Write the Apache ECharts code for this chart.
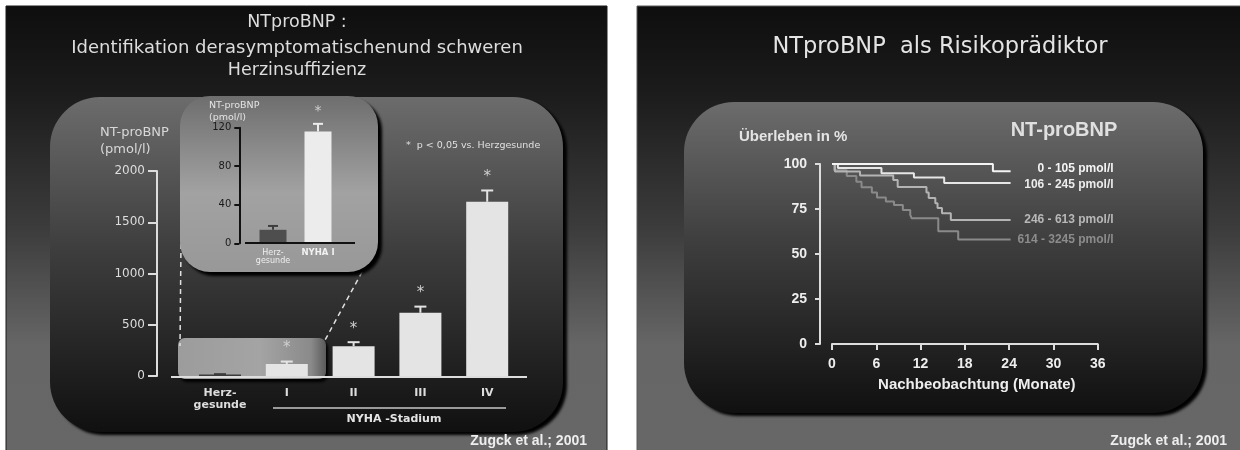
<!DOCTYPE html>
<html>
<head>
<meta charset="utf-8">
<script src="https://cdn.jsdelivr.net/npm/echarts@6/dist/echarts.min.js"></script>
<style>
  html, body { margin: 0; padding: 0; background: #ffffff; }
  #chart { width: 1240px; height: 450px; }
</style>
</head>
<body>
<div id="chart"></div>
<script>
// NT-proBNP (pmol/l) by group: healthy controls and NYHA stages
const groups = ['Herz-\ngesunde', 'I', 'II', 'III', 'IV'];
const ntprobnp = [14, 116, 290, 617, 1700];
const ntprobnpErr = [4, 25, 40, 60, 110];
const significant = [0, 1, 1, 1, 1];
const mainTicks = { min: 0, max: 2000, interval: 500 };

// Magnified view of the two lowest groups
const insetGroups = ['Herz-\ngesunde', 'NYHA I'];
const insetValues = [14, 116];
const insetErr = [4, 8];
const insetSignificant = [0, 1];
const insetTicks = { min: 0, max: 120, interval: 40 };

// Kaplan-Meier survival (%) over follow-up months, by NT-proBNP quartile
const kmGroups = ['0 - 105 pmol/l', '106 - 245 pmol/l', '246 - 613 pmol/l', '614 - 3245 pmol/l'];
const km0to105 = [[0, 100], [21.8, 96], [24.2, 96]];
const km106to245 = [[0, 100], [0.8, 97.8], [6.7, 94.8], [11.1, 92.5], [15.2, 89.4], [24.2, 89.4]];
const km246to613 = [[0, 100], [0.4, 95.8], [3.8, 93.6], [8.3, 91.1], [8.9, 87.2], [12.8, 84.2],
  [13.1, 81.1], [14.0, 78.2], [14.3, 75.6], [14.9, 72.6], [16.1, 68.9], [24.2, 68.9]];
const km614to3245 = [[0, 100], [0.3, 96.5], [2.0, 93.3], [3.3, 90.2], [4.0, 87.1], [5.4, 84.1],
  [6.1, 81.4], [7.3, 79.1], [8.4, 77.2], [9.6, 74.4], [10.6, 71.7], [10.8, 69.8], [14.4, 62.6],
  [17.1, 58.0], [24.2, 58.0]];
const kmTicksX = { min: 0, max: 36, interval: 6 };
const kmTicksY = { min: 0, max: 100, interval: 25 };

const SLIDE_FONT = '"DejaVu Sans", sans-serif';
const ARIAL = '"Liberation Sans", Arial, sans-serif';

function vgrad(stops) {
  return new echarts.graphic.LinearGradient(0, 0, 0, 1,
    stops.map(s => ({ offset: s[0], color: s[1] })));
}

// Error bar whiskers with an optional significance star above the cap
function errorBars(axisIndex, values, errs, stars, colors, cap, starGap, starFont) {
  return {
    type: 'custom',
    xAxisIndex: axisIndex,
    yAxisIndex: axisIndex,
    z: 5,
    data: values.map((v, i) => [i, v, errs[i], stars[i]]),
    renderItem(params, api) {
      const i = api.value(0);
      const v = api.value(1);
      const e = api.value(2);
      const base = api.coord([i, v]);
      const top = api.coord([i, v + e]);
      const col = colors[i];
      const children = [
        { type: 'line', shape: { x1: base[0], y1: base[1], x2: top[0], y2: top[1] },
          style: { stroke: col, lineWidth: 2 } },
        { type: 'line', shape: { x1: top[0] - cap, y1: top[1], x2: top[0] + cap, y2: top[1] },
          style: { stroke: col, lineWidth: 2 } }
      ];
      if (api.value(3)) {
        children.push({ type: 'text', style: { text: '*', x: top[0], y: top[1] - starGap,
          align: 'center', verticalAlign: 'middle', fill: '#cfcfcf', font: starFont } });
      }
      return { type: 'group', children };
    }
  };
}

function kmSeries(name, data, color, labelColor, dy) {
  return {
    type: 'line', name, data, step: 'end', xAxisIndex: 2, yAxisIndex: 2,
    symbol: 'none', lineStyle: { color, width: 2 },
    endLabel: {
      show: true, distance: 13, offset: [0, dy], formatter: '{t|{a}}',
      rich: { t: { width: 90, align: 'right', color: labelColor,
        fontFamily: ARIAL, fontWeight: 'bold', fontSize: 12 } }
    }
  };
}

const plainNumber = v => String(v);

const chart = echarts.init(document.getElementById('chart'), null, { renderer: 'canvas' });

const option = {
  animation: false,
  backgroundColor: '#ffffff',
  grid: [
    { left: 186.6, top: 171, width: 334, height: 205 },
    { left: 250.5, top: 127.7, width: 90, height: 115.6 },
    { left: 832, top: 164, width: 265.7, height: 180 }
  ],
  xAxis: [
    { type: 'category', gridIndex: 0, data: groups,
      axisLine: { show: false }, axisTick: { show: false },
      axisLabel: { interval: 0, color: '#dddddd', fontFamily: SLIDE_FONT, fontWeight: 'bold',
        fontSize: 11, lineHeight: 12, margin: 11 } },
    { type: 'category', gridIndex: 1, data: insetGroups,
      axisLine: { show: false }, axisTick: { show: false },
      axisLabel: { interval: 0, color: '#eeeeee', fontFamily: SLIDE_FONT, fontSize: 8, lineHeight: 8.5, margin: 5,
        formatter: v => v === 'NYHA I' ? '{b|' + v + '}' : v,
        rich: { b: { fontWeight: 'bold', fontSize: 8.5, color: '#f2f2f2', fontFamily: SLIDE_FONT } } } },
    { type: 'value', gridIndex: 2, min: kmTicksX.min, max: kmTicksX.max, interval: kmTicksX.interval,
      axisLine: { onZero: false, lineStyle: { color: '#dddddd', width: 2 } },
      axisTick: { length: 6, lineStyle: { color: '#dddddd', width: 2 } },
      splitLine: { show: false },
      axisLabel: { color: '#eeeeee', fontFamily: ARIAL, fontWeight: 'bold', fontSize: 14, margin: 13 },
      name: 'Nachbeobachtung (Monate)', nameLocation: 'middle', nameGap: 33,
      nameTextStyle: { color: '#eeeeee', fontFamily: ARIAL, fontWeight: 'bold', fontSize: 15,
        padding: [0, 0, 0, 24] } }
  ],
  yAxis: [
    { type: 'value', gridIndex: 0, min: mainTicks.min, max: mainTicks.max, interval: mainTicks.interval,
      offset: 29.6,
      axisLine: { show: true, onZero: false, lineStyle: { color: '#dddddd', width: 2 } },
      axisTick: { show: true, length: 9, lineStyle: { color: '#dddddd', width: 2 } },
      splitLine: { show: false },
      axisLabel: { formatter: plainNumber, color: '#dddddd', fontFamily: SLIDE_FONT, fontSize: 12, margin: 12 } },
    { type: 'value', gridIndex: 1, min: insetTicks.min, max: insetTicks.max, interval: insetTicks.interval,
      offset: 11.2,
      axisLine: { show: true, onZero: false, lineStyle: { color: '#111111', width: 2 } },
      axisTick: { show: true, length: 5, lineStyle: { color: '#111111', width: 2 } },
      splitLine: { show: false },
      axisLabel: { formatter: plainNumber, color: '#1a1a1a', fontFamily: SLIDE_FONT, fontSize: 10, margin: 8 } },
    { type: 'value', gridIndex: 2, min: kmTicksY.min, max: kmTicksY.max, interval: kmTicksY.interval,
      offset: 12,
      axisLine: { show: true, onZero: false, lineStyle: { color: '#dddddd', width: 2 } },
      axisTick: { show: true, length: 5, lineStyle: { color: '#dddddd', width: 2 } },
      splitLine: { show: false },
      axisLabel: { formatter: plainNumber, color: '#eeeeee', fontFamily: ARIAL, fontWeight: 'bold', fontSize: 14, margin: 13 } }
  ],
  series: [
    { type: 'bar', xAxisIndex: 0, yAxisIndex: 0, barWidth: 42, z: 3,
      data: ntprobnp.map((v, i) => ({ value: v,
        itemStyle: { color: i === 0 ? '#3c3c3c' : '#e4e4e4' } })) },
    errorBars(0, ntprobnp, ntprobnpErr, significant,
      ['#3c3c3c', '#e4e4e4', '#e4e4e4', '#e4e4e4', '#e4e4e4'], 6, 13, '15px ' + SLIDE_FONT),
    { type: 'bar', xAxisIndex: 1, yAxisIndex: 1, barWidth: 27, z: 3,
      data: insetValues.map((v, i) => ({ value: v,
        itemStyle: { color: i === 0 ? '#4e4e4e' : '#ececec' } })) },
    errorBars(1, insetValues, insetErr, insetSignificant, ['#3e3e3e', '#ececec'], 5, 12, '14px ' + SLIDE_FONT),
    kmSeries(kmGroups[3], km614to3245, '#8a8a8a', '#8c8c8c', 0),
    kmSeries(kmGroups[2], km246to613, '#b4b4b4', '#b8b8b8', 0),
    kmSeries(kmGroups[1], km106to245, '#e6e6e6', '#ececec', 2),
    kmSeries(kmGroups[0], km0to105, '#f4f4f4', '#f4f4f4', -2.5)
  ],
  graphic: [
    // slide backgrounds
    { type: 'rect', z: -100, shape: { x: 6, y: 6, width: 601, height: 446 },
      style: { fill: vgrad([[0, '#0e0e0e'], [0.2, '#1c1c1c'], [0.5, '#3c3c3c'], [0.76, '#666666'], [1, '#676767']]),
        stroke: '#1a1a1a', lineWidth: 1 } },
    { type: 'rect', z: -100, shape: { x: 637, y: 6, width: 605, height: 446 },
      style: { fill: vgrad([[0, '#0e0e0e'], [0.2, '#1c1c1c'], [0.5, '#3c3c3c'], [0.76, '#666666'], [1, '#676767']]),
        stroke: '#5a5a5a', lineWidth: 1 } },
    // rounded chart panels
    { type: 'rect', z: -90, shape: { x: 50, y: 97, width: 513, height: 335, r: 50 },
      style: { fill: vgrad([[0, '#6c6c6c'], [0.45, '#3e3e3e'], [1, '#101010']]),
        shadowColor: '#000000', shadowBlur: 3, shadowOffsetX: 4, shadowOffsetY: 3 } },
    { type: 'rect', z: -90, shape: { x: 684, y: 102, width: 519, height: 311, r: 50 },
      style: { fill: vgrad([[0, '#6c6c6c'], [0.45, '#3e3e3e'], [1, '#101010']]),
        shadowColor: '#000000', shadowBlur: 3, shadowOffsetX: 4, shadowOffsetY: 3 } },
    // highlighted low range on the main chart
    { type: 'rect', z: -80, shape: { x: 178, y: 338, width: 148, height: 41, r: 7 },
      style: { fill: new echarts.graphic.LinearGradient(0, 0, 1, 0, [
          { offset: 0, color: '#9c9c9c' }, { offset: 0.55, color: '#a4a4a4' },
          { offset: 0.9, color: '#8a8a8a' }, { offset: 1, color: '#5a5a5a' }]),
        shadowColor: '#000000', shadowBlur: 3, shadowOffsetX: 2, shadowOffsetY: 3 } },
    // dashed connectors to the magnified view
    { type: 'line', z: -70, shape: { x1: 181, y1: 244, x2: 180, y2: 346 },
      style: { stroke: '#e0e0e0', lineWidth: 1.5, lineDash: [5, 4] } },
    { type: 'line', z: -70, shape: { x1: 362, y1: 272, x2: 324, y2: 342 },
      style: { stroke: '#e0e0e0', lineWidth: 1.5, lineDash: [5, 4] } },
    // magnified view panel
    { type: 'rect', z: -60, shape: { x: 180, y: 96, width: 198, height: 176, r: 30 },
      style: { fill: vgrad([[0, '#6e6e6e'], [0.55, '#a2a2a2'], [1, '#989898']]),
        shadowColor: '#000000', shadowBlur: 3, shadowOffsetX: 4, shadowOffsetY: 4 } },
    // baselines
    { type: 'line', z: 4, shape: { x1: 171, y1: 377, x2: 527, y2: 377 },
      style: { stroke: '#dddddd', lineWidth: 2 } },
    { type: 'line', z: 4, shape: { x1: 245, y1: 243, x2: 355, y2: 243 },
      style: { stroke: '#111111', lineWidth: 2 } },
    { type: 'line', z: 4, shape: { x1: 273, y1: 408, x2: 506, y2: 408 },
      style: { stroke: '#9a9a9a', lineWidth: 2 } },
    // left slide texts
    { type: 'text', z: 10, style: { text: 'NTproBNP :', x: 297, y: 22, align: 'center', verticalAlign: 'middle',
      fill: '#dddddd', font: '17.5px ' + SLIDE_FONT } },
    { type: 'text', z: 10, style: { text: 'Identifikation derasymptomatischenund schweren', x: 297, y: 48,
      align: 'center', verticalAlign: 'middle', fill: '#dddddd', font: '18px ' + SLIDE_FONT } },
    { type: 'text', z: 10, style: { text: 'Herzinsuffizienz', x: 297, y: 70, align: 'center', verticalAlign: 'middle',
      fill: '#dddddd', font: '17.5px ' + SLIDE_FONT } },
    { type: 'text', z: 10, style: { text: 'NT-proBNP\n(pmol/l)', x: 100, y: 124, lineHeight: 17,
      fill: '#d8d8d8', font: '13px ' + SLIDE_FONT } },
    { type: 'text', z: 10, style: { text: 'NT-proBNP\n(pmol/l)', x: 209, y: 100, lineHeight: 12,
      fill: '#e4e4e4', font: '9.5px ' + SLIDE_FONT } },
    { type: 'text', z: 10, style: { text: '*  p < 0,05 vs. Herzgesunde', x: 406, y: 146, verticalAlign: 'middle',
      fill: '#e0e0e0', font: '9.5px ' + SLIDE_FONT } },
    { type: 'text', z: 10, style: { text: 'NYHA -Stadium', x: 394, y: 419, align: 'center', verticalAlign: 'middle',
      fill: '#e4e4e4', font: 'bold 11px ' + SLIDE_FONT } },
    { type: 'text', z: 10, style: { text: 'Zugck et al.; 2001', x: 587, y: 441, align: 'right', verticalAlign: 'middle',
      fill: '#eeeeee', font: 'bold 14px ' + ARIAL } },
    // right slide texts
    { type: 'text', z: 10, style: { text: 'NTproBNP  als Risikoprädiktor', x: 940, y: 47, align: 'center',
      verticalAlign: 'middle', fill: '#e4e4e4', font: '22.5px ' + SLIDE_FONT } },
    { type: 'text', z: 10, style: { text: 'Überleben in %', x: 739, y: 137, verticalAlign: 'middle',
      fill: '#e4e4e4', font: 'bold 15px ' + ARIAL } },
    { type: 'text', z: 10, style: { text: 'NT-proBNP', x: 1064, y: 130, align: 'center', verticalAlign: 'middle',
      fill: '#e0e0e0', font: 'bold 20px ' + ARIAL } },
    { type: 'text', z: 10, style: { text: 'Zugck et al.; 2001', x: 1227, y: 441, align: 'right', verticalAlign: 'middle',
      fill: '#eeeeee', font: 'bold 14px ' + ARIAL } }
  ]
};

chart.setOption(option);
</script>
</body>
</html>
